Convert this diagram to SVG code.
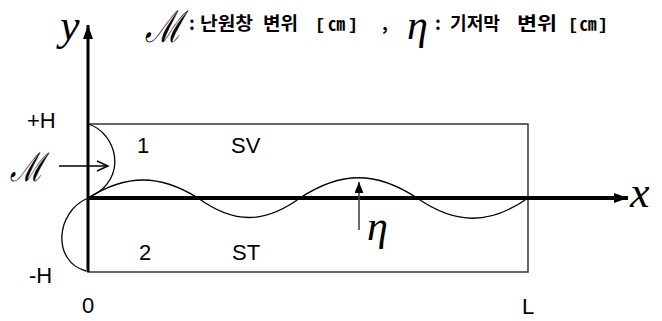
<svg xmlns="http://www.w3.org/2000/svg" width="662" height="321" viewBox="0 0 662 321">
<style>
.lbl{font-family:"Liberation Sans",Arial,sans-serif;font-size:22px;fill:#000}
.kr{font-family:"Noto Sans CJK KR","Noto Sans",sans-serif;font-size:18px;font-weight:bold;fill:#000}
.br{font-family:"Liberation Mono","Noto Sans CJK KR",monospace;font-size:17px;font-weight:bold;fill:#000}
.scr{font-family:"Liberation Serif","DejaVu Serif",serif;font-style:italic;fill:#000}
.curve{fill:none;stroke:#000;stroke-width:1.3}
</style>
<defs>
<marker id="fa" markerUnits="userSpaceOnUse" markerWidth="16" markerHeight="12" refX="14" refY="5" orient="auto">
<path d="M0,0 L14,5 L0,10 Z" fill="#000"/>
</marker>
<marker id="fs" markerUnits="userSpaceOnUse" markerWidth="12" markerHeight="10" refX="11" refY="4.5" orient="auto">
<path d="M0,0 L11,4.5 L0,9 Z" fill="#000"/>
</marker>
<marker id="oa" markerUnits="userSpaceOnUse" markerWidth="14" markerHeight="12" refX="12" refY="6" orient="auto">
<path d="M1,1 L12,6 L1,11" fill="none" stroke="#000" stroke-width="1.4"/>
</marker>
</defs>
<rect width="662" height="321" fill="#fff"/>

<g id="title">
<text class="scr" x="0" y="0" font-size="44" transform="translate(145,42) scale(0.74,1)">ℳ</text>
<text class="kr" x="189" y="30">:</text>
<text class="kr" x="200" y="30" textLength="53" lengthAdjust="spacingAndGlyphs">난원창</text>
<text class="kr" x="263" y="30" textLength="35" lengthAdjust="spacingAndGlyphs">변위</text>
<text class="br" x="315" y="30" textLength="43" lengthAdjust="spacing">[㎝]</text>
<text class="kr" x="382" y="30">,</text>
<text class="scr" x="407" y="39" font-size="42">η</text>
<text class="kr" x="435" y="30">:</text>
<text class="kr" x="450" y="30" textLength="50" lengthAdjust="spacingAndGlyphs">기저막</text>
<text class="kr" x="517" y="30" textLength="40" lengthAdjust="spacingAndGlyphs">변위</text>
<text class="br" x="568" y="30" textLength="40" lengthAdjust="spacing">[㎝]</text>
</g>

<g id="channel">
<rect x="88" y="124" width="440" height="148" fill="none" stroke="#333" stroke-width="1.5"/>
</g>

<g id="labels">
<text class="lbl" x="27" y="128">+H</text>
<text class="lbl" x="29" y="283">-H</text>
<text class="lbl" x="88" y="313" text-anchor="middle">0</text>
<text class="lbl" x="522" y="314">L</text>
<text class="lbl" x="137" y="153">1</text>
<text class="lbl" x="231" y="153">SV</text>
<text class="lbl" x="139" y="260">2</text>
<text class="lbl" x="232" y="260">ST</text>
<text class="scr" x="60" y="40" font-size="44">y</text>
<text class="scr" x="630" y="207" font-size="44">x</text>
<text class="scr" x="0" y="0" font-size="40" transform="translate(10,181) scale(0.74,1)">ℳ</text>
<text class="scr" x="367" y="240" font-size="42">η</text>
</g>

<g id="curves">
<path class="curve" d="M88,124 C116,132 130,178 90,197"/>
<path class="curve" d="M88,198 C55,212 52,262 86,271"/>
<path class="curve" d="M88,198 C126.5,174 159.5,174 198,198 C233.7,224 264.3,224 300,198 C341,171 376,171 417,198 C456,225 490,225 528,198"/>
</g>

<g id="connectors">
<line x1="88" y1="272" x2="88" y2="25" stroke="#000" stroke-width="3" marker-end="url(#fa)"/>
<line x1="88" y1="198" x2="628" y2="198" stroke="#000" stroke-width="4" marker-end="url(#fa)"/>
<line x1="59" y1="166" x2="108" y2="166" stroke="#000" stroke-width="1.3" marker-end="url(#oa)"/>
<line x1="359" y1="230" x2="359" y2="182" stroke="#444" stroke-width="1.6" marker-end="url(#fs)"/>
</g>
</svg>
